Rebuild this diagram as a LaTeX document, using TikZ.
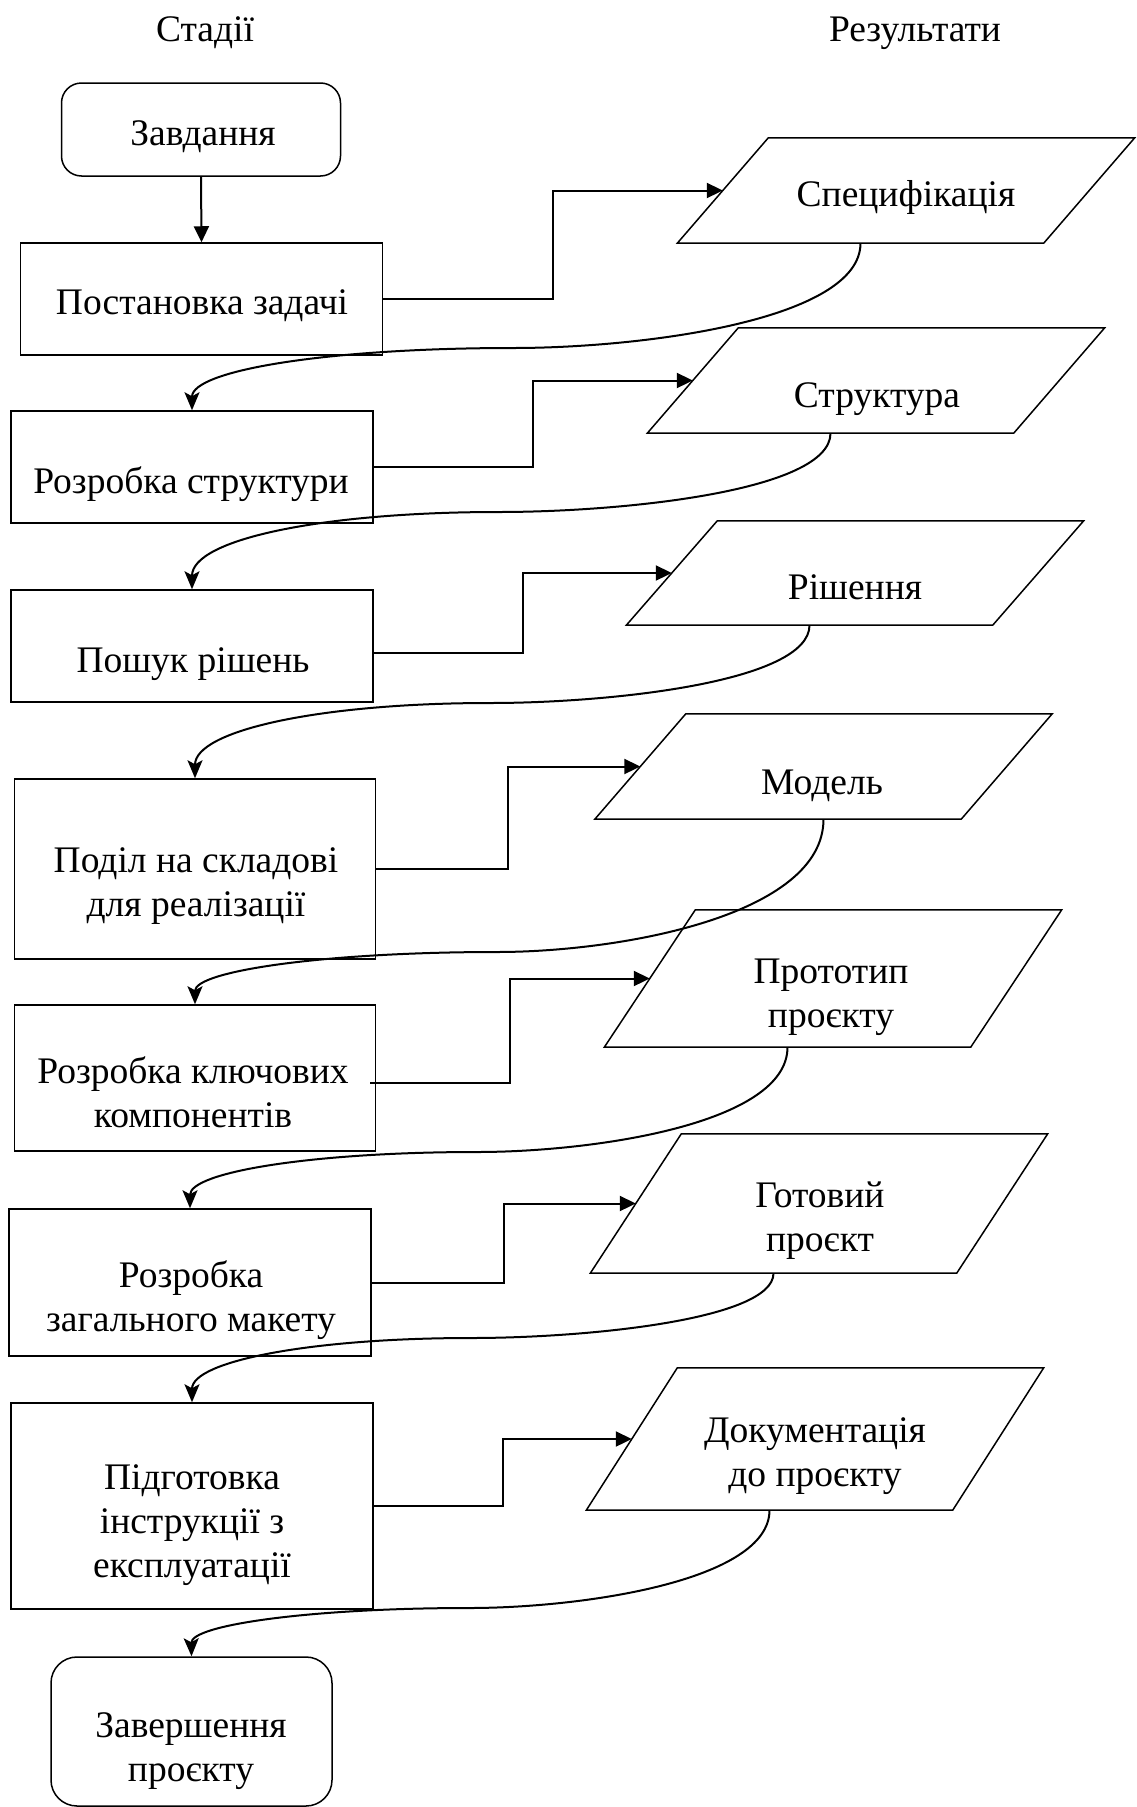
\documentclass[tikz,border=0pt]{standalone}
\usepackage{fontspec}
\setmainfont{Liberation Serif}
\usetikzlibrary{arrows.meta,calc}
\newcommand\paraoutline[1]{\draw[line width=1.5pt] ([xshift=-45.5pt]#1.south west) -- ([xshift=-45.5pt]#1.south east) -- ([xshift=45.5pt]#1.north east) -- ([xshift=45.5pt]#1.north west) -- cycle;}
\begin{document}
\begin{tikzpicture}[x=1pt,y=-1pt,
  shp/.style={draw,line width=1.5pt,inner sep=0pt},
  stage/.style={shp,rectangle,minimum width=362pt},
  res/.style={rectangle,inner sep=0pt,minimum width=366pt},
  txt/.style={font=\fontsize{37.5}{44}\selectfont,align=center,inner sep=0pt},
  conn/.style={line width=2pt,-{Triangle[length=16pt,width=15pt]}},
  curv/.style={line width=2pt,-{Stealth[length=18pt,width=15pt,inset=4pt]}}]
\useasboundingbox (0,0) rectangle (1136,1807);

% headers
\node[txt] (h1) at (205,33) {\strut Стадії};
\node[txt] (h2) at (915,33) {\strut Результати};

% stage shapes
\node[shp,rounded corners=20pt,minimum width=279pt,minimum height=93pt] (s0) at (201,129.5) {};
\node[stage,minimum height=112pt] (s1) at (201.5,299) {};
\node[stage,minimum height=112pt] (s2) at (192,467) {};
\node[stage,minimum height=112pt] (s3) at (192,646) {};
\node[stage,minimum width=361pt,minimum height=180pt] (s4) at (195,869) {};
\node[stage,minimum width=361pt,minimum height=146pt] (s5) at (195,1078) {};
\node[stage,minimum height=147pt] (s6) at (190,1282.5) {};
\node[stage,minimum height=206pt] (s7) at (192,1506) {};
\node[shp,rounded corners=26pt,minimum width=281pt,minimum height=149pt] (s8) at (191.5,1731.5) {};

% stage texts
\node[txt] (ts0) at (203,137) {\strut Завдання};
\node[txt] (ts1) at (202,306) {\strut Постановка задачі};
\node[txt] (ts2) at (191,485) {\strut Розробка структури};
\node[txt] (ts3) at (193,664) {\strut Пошук рішень};
\node[txt] (ts4) at (196,886) {\strut Поділ на складові\\\strut для реалізації};
\node[txt] (ts5) at (193,1097) {\strut Розробка ключових\\\strut компонентів};
\node[txt] (ts6) at (191,1301) {\strut Розробка\\\strut загального макету};
\node[txt] (ts7) at (192,1525) {\strut Підготовка\\\strut інструкції з\\\strut експлуатації};
\node[txt] (ts8) at (191,1751) {\strut Завершення\\\strut проєкту};

% result shapes
\node[res,minimum height=105pt] (r1) at (906,190.5) {};
\node[res,minimum height=105pt] (r2) at (876,380.5) {};
\node[res,minimum height=104pt] (r3) at (855,573) {};
\node[res,minimum height=105pt] (r4) at (823.5,766.5) {};
\node[res,minimum height=137pt] (r5) at (833,978.5) {};
\node[res,minimum height=139pt] (r6) at (819,1203.5) {};
\node[res,minimum height=142pt] (r7) at (815,1439) {};
\paraoutline{r1}
\paraoutline{r2}
\paraoutline{r3}
\paraoutline{r4}
\paraoutline{r5}
\paraoutline{r6}
\paraoutline{r7}

% result texts
\node[txt] (tr1) at (906,198) {\strut Специфікація};
\node[txt] (tr2) at (877,399) {\strut Структура};
\node[txt] (tr3) at (855,591) {\strut Рішення};
\node[txt] (tr4) at (822,786) {\strut Модель};
\node[txt] (tr5) at (831,997) {\strut Прототип\\\strut проєкту};
\node[txt] (tr6) at (820,1221) {\strut Готовий\\\strut проєкт};
\node[txt] (tr7) at (815,1456) {\strut Документація\\\strut до проєкту};

% straight connectors
\draw[conn] (s0.south) -- (s1.north);
\draw[conn] (s1.east) -| ($(s1.east)!.5!(r1.west)$) |- (r1.west);
\draw[conn] (s2.east) -| ($(s2.east)!.5!(r2.west)$) |- (r2.west);
\draw[conn] ([yshift=-7pt]s3.east) -| ($([yshift=-7pt]s3.east)!.5!(r3.west)$) |- (r3.west);
\draw[conn] (s4.east) -| ($(s4.east)!.5!(r4.west)$) |- (r4.west);
\draw[conn] ([xshift=-6pt,yshift=-5pt]s5.east) -| ($([xshift=-6pt,yshift=-5pt]s5.east)!.5!(r5.west)$) |- (r5.west);
\draw[conn] (s6.east) -| ($(s6.east)!.5!(r6.west)$) |- (r6.west);
\draw[conn] (s7.east) -| ($(s7.east)!.5!(r7.west)$) |- (r7.west);

% curved connectors
\draw[curv] ([xshift=-45.5pt]r1.south) .. controls (860.5,320) and (643,348) .. (513,348) .. controls (330,348) and (192,370) .. (s2.north);
\draw[curv] ([xshift=-45.5pt]r2.south) .. controls (830.5,491) and (623,512) .. (498.5,512) .. controls (324,512) and (192,539) .. (s3.north);
\draw[curv] ([xshift=-45.5pt]r3.south) .. controls (809.5,682) and (610,703) .. (490,703) .. controls (322,703) and (195,730) .. (s4.north);
\draw[curv] (r4.south) .. controls (823.5,916) and (619,952) .. (497,952) .. controls (325,952) and (195,971) .. (s5.north);
\draw[curv] ([xshift=-45.5pt]r5.south) .. controls (787.5,1124) and (593,1152) .. (477,1152) .. controls (313,1152) and (190,1172) .. (s6.north);
\draw[curv] ([xshift=-45.5pt]r6.south) .. controls (773.5,1320) and (584.5,1338) .. (471,1338) .. controls (312,1338) and (192,1361) .. (s7.north);
\draw[curv] ([xshift=-45.5pt]r7.south) .. controls (769.5,1581) and (581.5,1608) .. (469,1608) .. controls (310,1608) and (191,1625) .. (s8.north);
\end{tikzpicture}
\end{document}
